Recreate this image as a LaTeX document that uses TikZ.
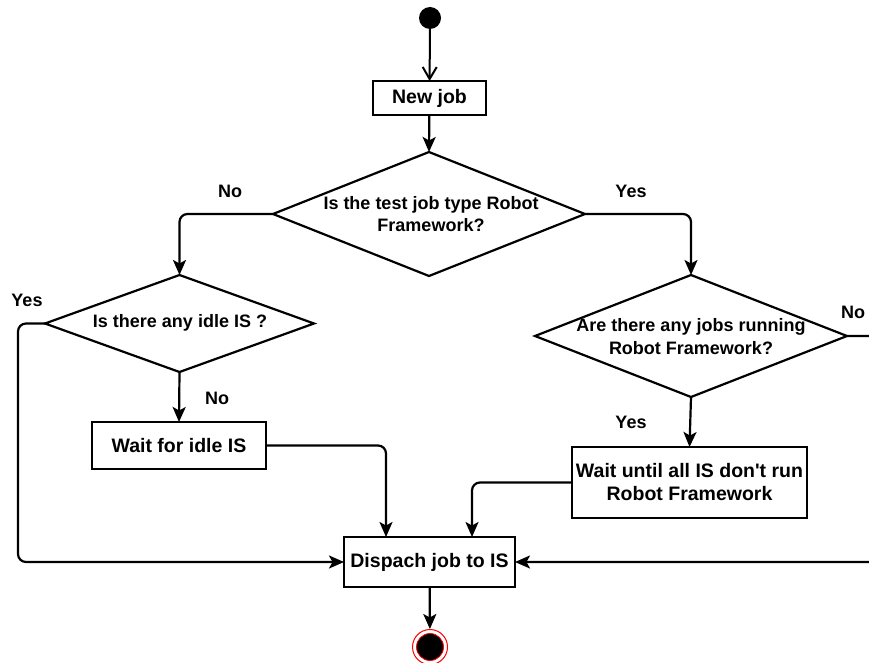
\documentclass[tikz,border=0pt]{standalone}
\usepackage{fontspec}
\setmainfont{Liberation Sans}
\newfontfamily\rawsans{Liberation Sans}
\usetikzlibrary{shapes.geometric,arrows.meta}
\begin{document}
\begin{tikzpicture}[x=1pt,y=-1pt,
  box/.style={draw, rectangle, line width=2.2pt, inner sep=0pt, outer sep=0pt,
    font=\fontsize{19.5}{23}\selectfont\bfseries, align=center},
  dia/.style={draw, diamond, line width=2.2pt, inner sep=0pt, outer sep=0pt},
  diatext/.style={font=\fontsize{18}{22.5}\selectfont\bfseries, align=center, inner sep=0pt},
  lbl/.style={font=\fontsize{18}{22}\selectfont\bfseries, inner sep=0pt},
  flow/.style={line width=2.2pt, -{Stealth[length=15pt,width=13pt,inset=3.5pt]}, rounded corners=8pt},
  openflow/.style={line width=2pt, -{Straight Barb[length=12pt,width=14pt]}}]
\useasboundingbox (0,0) rectangle (869,663);
\clip (0,0) rectangle (869,663);

\node[circle, fill=black, minimum size=22pt, inner sep=0pt] (start) at (430,18) {};
\node[box, minimum width=113pt, minimum height=34pt] (newjob) at (429.5,98) {New job};
\node[dia, minimum width=312pt, minimum height=124pt] (d1) at (429,214) {};
\node[diatext] (t1) at (431,214) {Is the test job type Robot\\Framework?};
\node[dia, minimum width=269pt, minimum height=97pt] (d2) at (179.5,323.5) {};
\node[diatext] (t2) at (180,323) {Is there any idle IS ?};
\node[dia, minimum width=312pt, minimum height=122pt] (d3) at (691,336) {};
\node[diatext] (t3) at (691,336.5) {Are there any jobs running\\Robot Framework?};
\node[box, minimum width=235pt, minimum height=71pt] (w2) at (689.5,482.5) {Wait until all IS don{\rawsans\bfseries '}t run\\Robot Framework};
\node[box, minimum width=174pt, minimum height=47pt] (w1) at (179,445.5) {Wait for idle IS};
\node[box, minimum width=171pt, minimum height=50pt] (disp) at (429.5,562) {Dispach job to IS};
\node[circle, draw=red, line width=1pt, minimum size=35pt, inner sep=0pt] (end) at (430,647) {};
\node[circle, fill=black, draw=red, line width=0.8pt, minimum size=27pt, inner sep=0pt] (endin) at (end.center) {};

\node[lbl] (lno1) at (230,191) {No};
\node[lbl] (lyes1) at (631,191) {Yes};
\node[lbl] (lyes2) at (27,300) {Yes};
\node[lbl] (lno2) at (217,398) {No};
\node[lbl] (lyes3) at (631,422) {Yes};
\node[lbl] (lno3) at (853,312) {No};

\coordinate (cl) at (18,0);
\coordinate (cr) at (885,0);
\coordinate (c1) at ([xshift=-43.5pt]disp.north);
\coordinate (c2) at ([xshift=42.5pt]disp.north);

\draw[openflow] (start) -- (newjob);
\draw[flow] (newjob) -- (d1.north);
\draw[flow] (d1.west) -| (d2.north);
\draw[flow] (d1.east) -| (d3.north);
\draw[flow] (d2.west) -- (cl |- d2.west) -- (cl |- disp.west) -- (disp.west);
\draw[flow] (d2.south) -- (w1.north);
\draw[flow] (w1.east) -| (c1);
\draw[flow] (d3.south) -- (w2.north);
\draw[flow] (w2.west) -| (c2);
\draw[flow] (d3.east) -- (cr |- d3.east) -- (cr |- disp.east) -- (disp.east);
\draw[flow] (disp) -- (end);
\end{tikzpicture}
\end{document}
